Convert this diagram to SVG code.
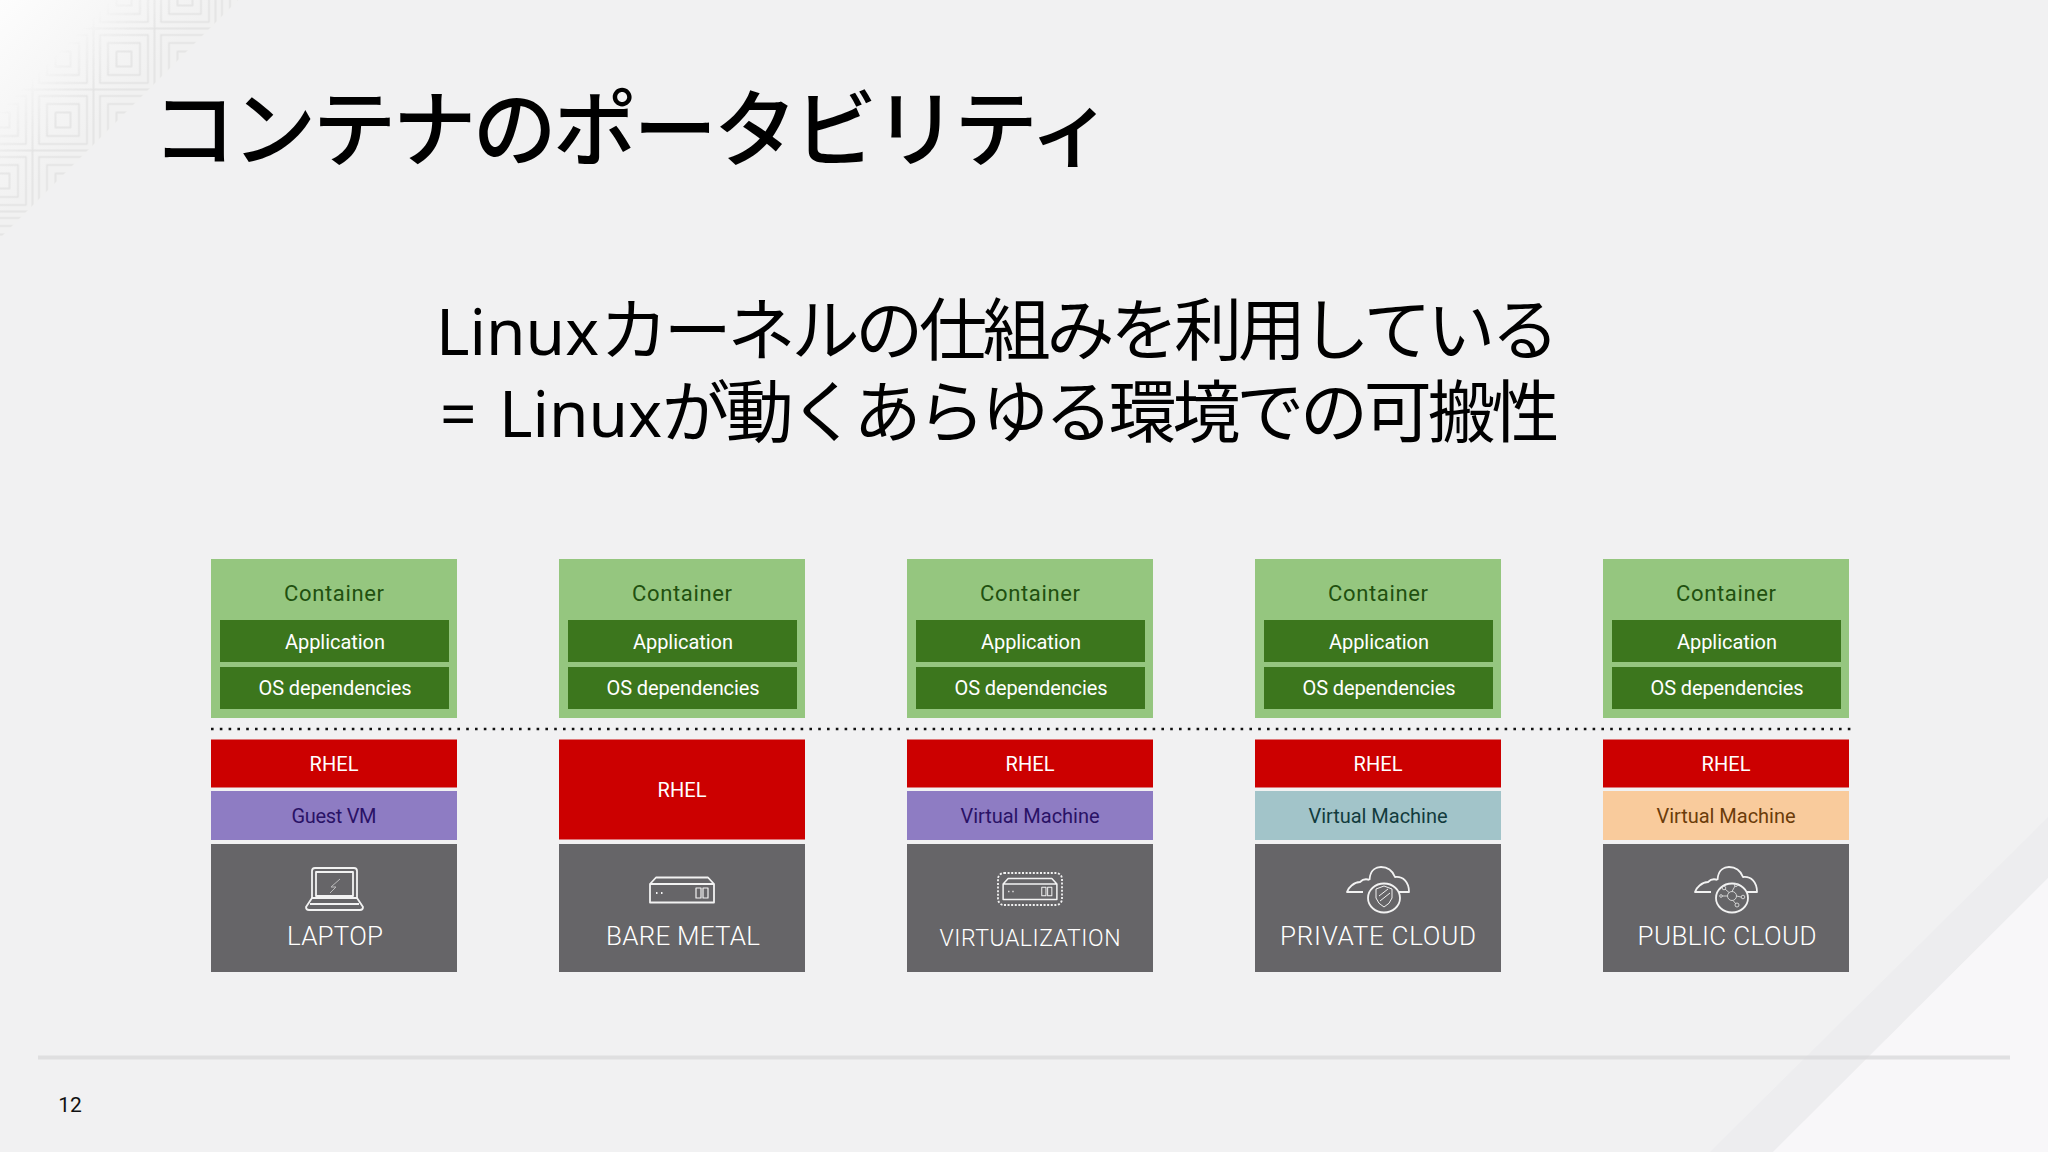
<svg xmlns="http://www.w3.org/2000/svg" xmlns:xlink="http://www.w3.org/1999/xlink" width="2048" height="1152" viewBox="0 0 2048 1152">
<defs>
<linearGradient id="corner" gradientUnits="userSpaceOnUse" x1="0" y1="0" x2="110" y2="110"><stop offset="0" stop-color="#fdfdfd"/><stop offset="1" stop-color="#f1f1f1"/></linearGradient>
<linearGradient id="fade" gradientUnits="userSpaceOnUse" x1="55" y1="55" x2="120" y2="120"><stop offset="0" stop-color="#000"/><stop offset="0.6" stop-color="#fff"/><stop offset="1" stop-color="#fff"/></linearGradient>
<mask id="fm" maskUnits="userSpaceOnUse" x="0" y="0" width="300" height="300"><rect width="300" height="300" fill="url(#fade)"/></mask>
<pattern id="sq" patternUnits="userSpaceOnUse" x="32.5" y="28.5" width="61" height="61">
<g fill="none" stroke="#e2e2e2" stroke-width="1.600"><rect x="0" y="0" width="61" height="61"/><rect x="6.500" y="6.500" width="48" height="48"/><rect x="14.500" y="14.500" width="32" height="32"/><rect x="23" y="23" width="15" height="15"/></g>
</pattern>
<g id="server"><path d="M-32 -6L-26 -12.500H26L32 -6M-32 -6H32V12.500H-32Z"/><path d="M21 -2H26V8H21ZM14 -2H19V8H14Z" stroke-width="1.200"/><path d="M-26 3h1.500M-21 3h1.500" stroke-width="2"/></g>
<g id="cloud"><path d="M-8.500 -17C-8 -28 -1 -30 3 -30C11 -30 15 -25 17 -20C25 -21 31 -15 31 -5H21M-15 -5H-31C-30 -9 -24 -15 -18 -15C-15 -18 -11 -18 -8.500 -17"/><ellipse cx="6" cy="1" rx="16" ry="14.500"/></g>
</defs>
<style>
text{font-family:Roboto,"Noto Sans",sans-serif;text-anchor:middle}
text.jp{font-family:"Noto Sans CJK JP","Noto Sans",sans-serif;fill:#000;text-anchor:start;font-weight:400}
text.ttl{font-weight:500}
.l{font-family:"Noto Sans","Noto Sans CJK JP",sans-serif;font-size:64px;letter-spacing:0}
.k{font-size:68px;letter-spacing:-4.200px}
.outer{fill:#95c67f}.inner{fill:#3c761d}.red{fill:#cc0000}.pur{fill:#8e7cc3}.teal{fill:#a2c4c9}.pea{fill:#f9cb9c}.gray{fill:#666568}
.tc{font-size:22px;fill:#21500f}.t{font-size:20px;fill:#fff}.big{font-size:26px;fill:#fff;font-weight:300}
.ic{fill:none;stroke:#f2f2f2;stroke-width:1.800;stroke-linejoin:round}
</style>
<rect width="2048" height="1152" fill="#f1f1f2"/>
<path d="M0 0H240L0 240Z" fill="url(#corner)"/>
<path d="M0 0H238L0 238Z" fill="url(#sq)" mask="url(#fm)"/>
<path d="M2048 817V878L1773 1152H1710Z" fill="#edEDef"/>
<path d="M2048 878V1152H1773Z" fill="#f8f7f9"/>
<path d="M38 1057.500H2010" stroke="#dcdcde" stroke-width="4" opacity="0.85"/>
<text class="jp ttl" x="152" y="160" font-size="84" letter-spacing="-3.800">コンテナのポータビリティ</text>
<text class="jp" y="355"><tspan class="l" x="436">Linux</tspan><tspan class="k" x="600">カーネルの仕組みを利用している</tspan></text>
<text class="jp" y="437"><tspan class="l" x="440">=</tspan> <tspan class="l" x="499">Linux</tspan><tspan class="k" x="662">が動くあらゆる環境での可搬性</tspan></text>
<g id="connectors"><path d="M211 729H1852" stroke="#111" stroke-width="2.600" stroke-dasharray="2.600 6.200" fill="none"/></g>
<g id="col1">
<rect class="outer" x="211" y="559" width="246" height="159"/><rect class="inner" x="220" y="620" width="229" height="42"/><rect class="inner" x="220" y="667" width="229" height="42"/>
<text class="tc" x="334" y="601" textLength="100">Container</text><text class="t" x="335" y="649" textLength="100">Application</text><text class="t" x="335" y="695" textLength="153">OS dependencies</text>
<rect class="red" x="211" y="739.500" width="246" height="48"/><text class="t" x="334" y="771" textLength="49">RHEL</text>
<rect class="pur" x="211" y="791" width="246" height="49"/><text class="t" x="334" y="823" textLength="85" style="fill:#2a1266">Guest VM</text>
<rect class="gray" x="211" y="844" width="246" height="128"/>
<g class="ic"><path d="M312 898V871Q312 868 315 868H354Q357 868 357 871V898M316 896V872H353V896Z"/><path d="M312 898L306 907Q306 910 309 910H360Q363 910 363 907L357 898ZM310 904H359"/><path d="M340 879L331 887H336L330 893" stroke-width="1" stroke="#bbb"/></g>
<text class="big" x="335" y="945" textLength="96">LAPTOP</text>
</g>
<g id="col2">
<rect class="outer" x="559" y="559" width="246" height="159"/><rect class="inner" x="568" y="620" width="229" height="42"/><rect class="inner" x="568" y="667" width="229" height="42"/>
<text class="tc" x="682" y="601" textLength="100">Container</text><text class="t" x="683" y="649" textLength="100">Application</text><text class="t" x="683" y="695" textLength="153">OS dependencies</text>
<rect class="red" x="559" y="739.500" width="246" height="100"/><text class="t" x="682" y="797" textLength="49">RHEL</text>
<rect class="gray" x="559" y="844" width="246" height="128"/>
<use href="#server" x="682" y="890" class="ic"/>
<text class="big" x="683" y="945" textLength="154">BARE METAL</text>
</g>
<g id="col3">
<rect class="outer" x="907" y="559" width="246" height="159"/><rect class="inner" x="916" y="620" width="229" height="42"/><rect class="inner" x="916" y="667" width="229" height="42"/>
<text class="tc" x="1030" y="601" textLength="100">Container</text><text class="t" x="1031" y="649" textLength="100">Application</text><text class="t" x="1031" y="695" textLength="153">OS dependencies</text>
<rect class="red" x="907" y="739.500" width="246" height="48"/><text class="t" x="1030" y="771" textLength="49">RHEL</text>
<rect class="pur" x="907" y="791" width="246" height="49"/><text class="t" x="1030" y="823" textLength="139" style="fill:#2a1266">Virtual Machine</text>
<rect class="gray" x="907" y="844" width="246" height="128"/>
<rect class="ic" x="998" y="873" width="64" height="32" rx="6" stroke-dasharray="2 1.600"/>
<use href="#server" transform="translate(1030 889) scale(.84)" class="ic"/>
<text class="big" x="1030" y="946" textLength="181" style="font-size:23px">VIRTUALIZATION</text>
</g>
<g id="col4">
<rect class="outer" x="1255" y="559" width="246" height="159"/><rect class="inner" x="1264" y="620" width="229" height="42"/><rect class="inner" x="1264" y="667" width="229" height="42"/>
<text class="tc" x="1378" y="601" textLength="100">Container</text><text class="t" x="1379" y="649" textLength="100">Application</text><text class="t" x="1379" y="695" textLength="153">OS dependencies</text>
<rect class="red" x="1255" y="739.500" width="246" height="48"/><text class="t" x="1378" y="771" textLength="49">RHEL</text>
<rect class="teal" x="1255" y="791" width="246" height="49"/><text class="t" x="1378" y="823" textLength="139" style="fill:#123b3d">Virtual Machine</text>
<rect class="gray" x="1255" y="844" width="246" height="128"/>
<use href="#cloud" x="1378" y="897" class="ic"/>
<path class="ic" d="M1376 889L1384 886L1392 889V898Q1390 904 1384 907Q1378 904 1376 898ZM1379 896L1388 889M1380 901L1390 893" style="stroke-width:1"/>
<text class="big" x="1378" y="945" textLength="196">PRIVATE CLOUD</text>
</g>
<g id="col5">
<rect class="outer" x="1603" y="559" width="246" height="159"/><rect class="inner" x="1612" y="620" width="229" height="42"/><rect class="inner" x="1612" y="667" width="229" height="42"/>
<text class="tc" x="1726" y="601" textLength="100">Container</text><text class="t" x="1727" y="649" textLength="100">Application</text><text class="t" x="1727" y="695" textLength="153">OS dependencies</text>
<rect class="red" x="1603" y="739.500" width="246" height="48"/><text class="t" x="1726" y="771" textLength="49">RHEL</text>
<rect class="pea" x="1603" y="791" width="246" height="49"/><text class="t" x="1726" y="823" textLength="139" style="fill:#6b3c0a">Virtual Machine</text>
<rect class="gray" x="1603" y="844" width="246" height="128"/>
<use href="#cloud" x="1726" y="897" class="ic"/>
<g class="ic" style="stroke-width:.9;stroke:#ddd"><circle cx="1732" cy="896" r="4.500"/><path d="M1732 891.500L1735 886M1736.500 896L1741 897M1733 900.500L1736 904M1727.500 896H1722M1729 892.500L1725 889"/><circle cx="1736" cy="885" r="1.500"/><circle cx="1743" cy="897" r="1.800"/><circle cx="1737" cy="905" r="2"/><circle cx="1721" cy="896" r="1.300"/><circle cx="1724" cy="888" r="1.800"/></g>
<text class="big" x="1727" y="945" textLength="179">PUBLIC CLOUD</text>
</g>
<text x="70" y="1112" font-size="21" fill="#111">12</text>
</svg>
